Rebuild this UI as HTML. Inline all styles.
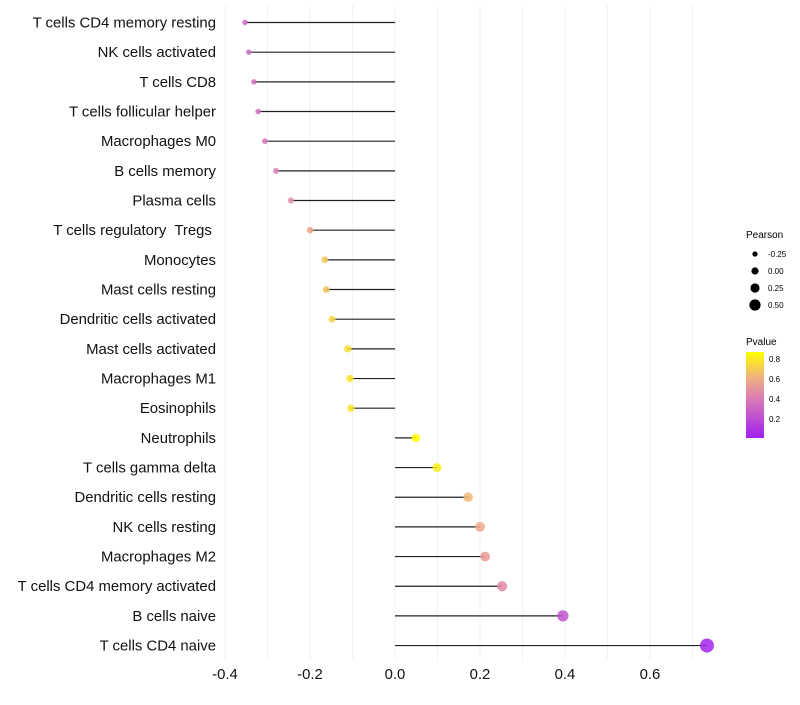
<!DOCTYPE html>
<html><head><meta charset="utf-8"><style>
body{margin:0;background:#fff;font-family:"Liberation Sans",sans-serif}
svg text{font-family:"Liberation Sans",sans-serif;white-space:pre}
</style></head><body>
<svg id="chart" width="800" height="700" xmlns="http://www.w3.org/2000/svg">
<defs><linearGradient id="pg" x1="0" y1="1" x2="0" y2="0">
<stop offset="0" stop-color="#a020f0"/><stop offset="0.45" stop-color="#da7ab8"/><stop offset="0.7" stop-color="#f0b080"/><stop offset="1" stop-color="#ffff00"/></linearGradient></defs>
<g id="grid"></g><g id="marks"></g><g id="ylabels"></g><g id="xlabels"></g>
<g>
<text x="746" y="238" font-size="10">Pearson</text>
<g id="sizeleg"></g>
<text x="746" y="345" font-size="10">Pvalue</text>
<rect x="746" y="352" width="18" height="86" fill="url(#pg)"/>
<g id="colorleg"></g>
</g>
</svg>
<script>
const categories=["T cells CD4 memory resting","NK cells activated","T cells CD8","T cells follicular helper","Macrophages M0","B cells memory","Plasma cells","T cells regulatory  Tregs ","Monocytes","Mast cells resting","Dendritic cells activated","Mast cells activated","Macrophages M1","Eosinophils","Neutrophils","T cells gamma delta","Dendritic cells resting","NK cells resting","Macrophages M2","T cells CD4 memory activated","B cells naive","T cells CD4 naive"];
const pearson=[-0.353,-0.344,-0.332,-0.322,-0.306,-0.28,-0.245,-0.2,-0.165,-0.162,-0.148,-0.111,-0.106,-0.104,0.049,0.099,0.172,0.2,0.212,0.252,0.395,0.734];
const pvalue=[0.3,0.32,0.33,0.35,0.37,0.4,0.47,0.56,0.68,0.68,0.72,0.76,0.78,0.78,0.87,0.82,0.62,0.57,0.52,0.45,0.22,0.03];
const xTicks=[-0.4,-0.2,0.0,0.2,0.4,0.6];
const sizeLegend=[-0.25,0,0.25,0.5];
const colorTicks=[0.2,0.4,0.6,0.8];
const NS="http://www.w3.org/2000/svg";
const X=v=>395+v*425;
const Y=i=>22.5+i*29.67;
const R=v=>4.1+4*v;
const stops=[[0,[160,32,240]],[0.39,[218,122,184]],[0.6,[240,176,128]],[0.87,[255,255,0]]];
function col(p){for(let i=1;i<stops.length;i++){if(p<=stops[i][0]||i==stops.length-1){const a=stops[i-1],b=stops[i];let t=Math.max(0,Math.min(1,(p-a[0])/(b[0]-a[0])));return "rgb("+a[1].map((c,k)=>Math.round(c+(b[1][k]-c)*t)).join(",")+")";}}}
const CY=p=>438-(p-0.01)*100;
function mk(t,a,parent){const e=document.createElementNS(NS,t);for(const k in a)e.setAttribute(k,a[k]);document.getElementById(parent).appendChild(e);return e;}
for(let v=-0.4;v<=0.71;v+=0.1){const g=mk("line",{x1:X(v),x2:X(v),y1:5,y2:660,stroke:"#f2f2f2","stroke-width":1},"grid");

}
categories.forEach((c,i)=>{
const l=mk("line",{x1:X(0),x2:X(pearson[i]),y1:Y(i),y2:Y(i),stroke:"#222","stroke-width":1.2},"marks");


const d=mk("circle",{cx:X(pearson[i]),cy:Y(i),r:R(pearson[i]),fill:col(pvalue[i]),"fill-opacity":0.85},"marks");


const t=mk("text",{x:216,y:Y(i)+5,"font-size":14.9,"text-anchor":"end",fill:"#111"},"ylabels");t.textContent=c;


});
xTicks.forEach(v=>{const t=mk("text",{x:X(v),y:679,"font-size":14.9,"text-anchor":"middle",fill:"#111"},"xlabels");t.textContent=v.toFixed(1);

});
sizeLegend.forEach((v,i)=>{const y=254+i*17;
const c=mk("circle",{cx:755,cy:y,r:R(v)-0.5,fill:"#000"},"sizeleg");


const t=mk("text",{x:768,y:y+3,"font-size":8},"sizeleg");t.textContent=v.toFixed(2);

});
colorTicks.forEach(v=>{const t=mk("text",{x:769,y:CY(v)+3,"font-size":8},"colorleg");t.textContent=v.toFixed(1);

});
</script>
</body></html>
